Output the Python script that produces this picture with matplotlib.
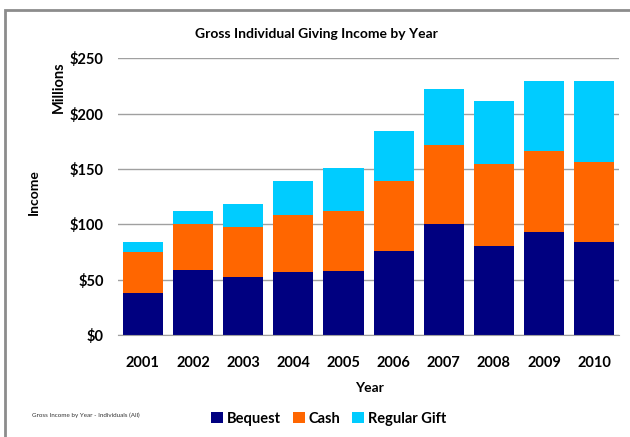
import matplotlib
matplotlib.use('Agg')
import matplotlib.pyplot as plt
from matplotlib.patches import Rectangle
import numpy as np

plt.rcParams['font.family'] = ['Lato', 'DejaVu Sans']

years = ['2001', '2002', '2003', '2004', '2005', '2006', '2007', '2008', '2009', '2010']
bequest = [38.4, 58.6, 52.6, 56.8, 58.3, 76.3, 100.4, 80.8, 93.1, 84.1]
cash = [37.0, 42.0, 44.8, 51.4, 54.0, 62.6, 70.9, 73.4, 72.8, 72.4]
regular_gift = [8.5, 11.7, 21.0, 30.9, 38.3, 45.1, 50.7, 57.1, 63.4, 72.8]
yticks = [0, 50, 100, 150, 200, 250]

fig = plt.figure(figsize=(6.3, 4.37), dpi=100)
ax = fig.add_axes([0.187, 0.2327, 0.796, 0.6343])

x = np.arange(len(years))
b1 = ax.bar(x, bequest, 0.8, color='#000080', label='Bequest', zorder=3)
b2 = ax.bar(x, cash, 0.8, bottom=bequest, color='#FF6600', label='Cash', zorder=3)
bot = np.array(bequest) + np.array(cash)
b3 = ax.bar(x, regular_gift, 0.8, bottom=bot, color='#00CCFF', label='Regular Gift', zorder=3)

ax.set_xlim(-0.5, len(years) - 0.5)
ax.set_ylim(0, 250)
ax.set_yticks(yticks)
ax.set_yticklabels(['$%d' % v for v in yticks], fontsize=10.5, fontweight='bold')
ax.set_xticks(x)
ax.set_xticklabels(years, fontsize=10.5, fontweight='bold')
ax.tick_params(axis='both', length=0)
ax.tick_params(axis='y', pad=10)
ax.tick_params(axis='x', pad=15)
ax.yaxis.grid(True, color='#A0A0A0', linewidth=1, zorder=0)
for s in ['left', 'right', 'top']:
    ax.spines[s].set_visible(False)
ax.spines['bottom'].set_color('#A0A0A0')
ax.spines['bottom'].set_zorder(4)

fig.text(0.502, 0.922, 'Gross Individual Giving Income by Year', ha='center', va='center',
         fontsize=10, fontweight='bold')
fig.text(0.093, 0.80, 'Millions', rotation=90, ha='center', va='center',
         fontsize=10.5, fontweight='bold')
fig.text(0.053, 0.56, 'Income', rotation=90, ha='center', va='center',
         fontsize=10, fontweight='bold')
fig.text(0.586, 0.112, 'Year', ha='center', va='center', fontsize=10, fontweight='bold')
fig.text(0.05, 0.05, 'Gross Income by Year - Individuals (All)', ha='left', va='center',
         fontsize=4.5, color='#333333')

fig.legend(handles=[b1, b2, b3], loc='center', bbox_to_anchor=(0.522, 0.042), ncol=3,
           frameon=False, prop={'weight': 'bold', 'size': 10.5}, handlelength=0.8,
           handleheight=0.8, handletextpad=0.3, columnspacing=0.8)

fig.patches.append(Rectangle((0.008, -0.1), 1.2, 1.077, transform=fig.transFigure,
                             fill=False, edgecolor='#8C8C8C', linewidth=2))

fig.savefig('out.png', dpi=100)
